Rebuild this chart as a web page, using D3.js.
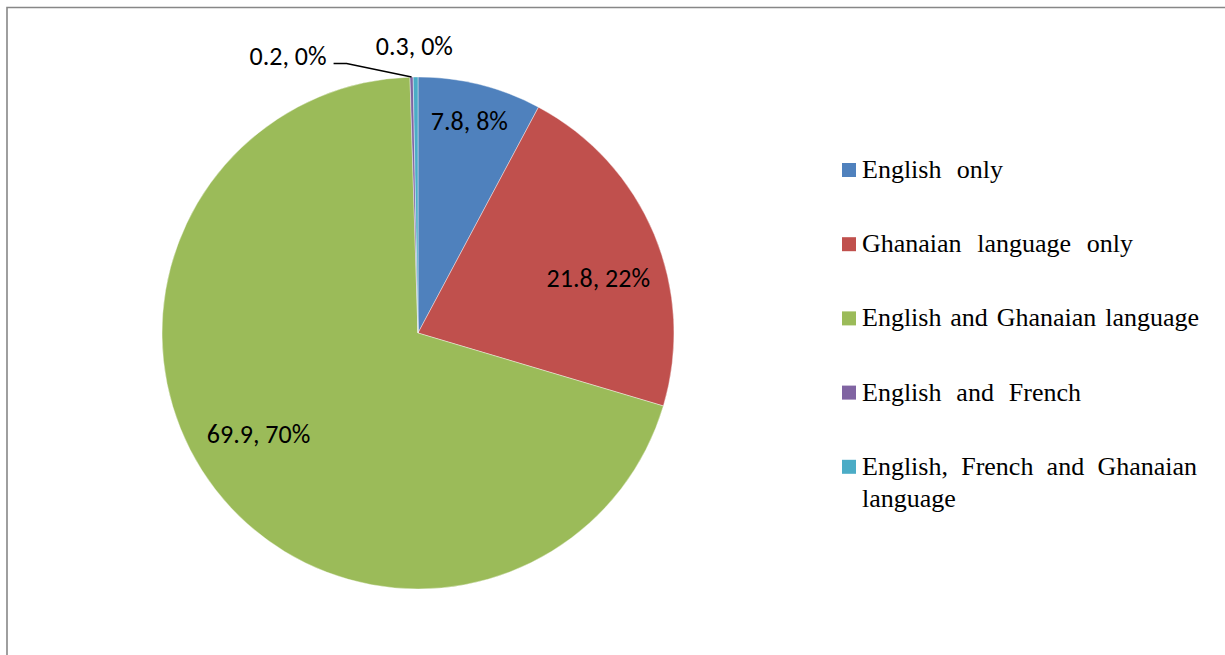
<!DOCTYPE html>
<html>
<head>
<meta charset="utf-8">
<script src="https://cdn.jsdelivr.net/npm/d3@7"></script>
<style>
  html, body { margin: 0; padding: 0; background: #fff; }
  svg { display: block; }
</style>
</head>
<body>
<svg id="chart" width="1225" height="655"></svg>
<script>
// Language(s) spoken — share of respondents
const categories = [
  "English only",
  "Ghanaian language only",
  "English and Ghanaian language",
  "English and French",
  "English, French and Ghanaian language"
];
const values = [7.8, 21.8, 69.9, 0.2, 0.3];
const colors = ["#4F81BD", "#C0504D", "#9BBB59", "#8064A2", "#4BACC6"];

const W = 1225, H = 655;
const cx = 418, cy = 333, R = 256;
const LABEL_FONT = '"Carlito", "Lato", sans-serif';
const LEGEND_FONT = '"Liberation Serif", "Tinos", serif';

const svg = d3.select("#chart");
svg.append("rect").attr("width", W).attr("height", H).attr("fill", "#fff");

// chart-area frame (left and top edges visible)
svg.append("path")
  .attr("d", `M7,${H} V7.5 H${W}`)
  .attr("fill", "none")
  .attr("stroke", "#878787")
  .attr("stroke-width", 1.6);

const total = d3.sum(values);
const pie = d3.pie().sort(null).value(d => d)(values);
const arc = d3.arc().innerRadius(0).outerRadius(R);

const g = svg.append("g").attr("transform", `translate(${cx},${cy})`);

g.selectAll("path.slice")
  .data(pie)
  .join("path")
  .attr("class", "slice")
  .attr("d", arc)
  .attr("fill", (d, i) => colors[i])
  .attr("stroke", "#fff")
  .attr("stroke-width", 0.4);

// data labels: "value, percent%"
const labelText = v => `${v}, ${Math.round(v / total * 100)}%`;
const midAngle = d => (d.startAngle + d.endAngle) / 2;

// label placement: radius along the slice bisector plus a nudge
const labelLayout = [
  { r: 216, dx: -1, dy: 7,  anchor: "middle" },
  { r: 190, dx: 5,  dy: 27, anchor: "middle" },
  { r: 190, dx: -9, dy: -6, anchor: "middle" },
  { r: 0,   dx: 0,  dy: 0,  anchor: "end", outside: true },
  { r: 278, dx: -1, dy: 0,  anchor: "middle" }
];

function addLabel(x, y, anchor, txt) {
  return g.append("text")
    .attr("x", x)
    .attr("y", y)
    .attr("text-anchor", anchor)
    .style("font-family", LABEL_FONT)
    .style("font-size", "26px")
    .attr("fill", "#000")
    .text(txt);
}

pie.forEach((d, i) => {
  const L = labelLayout[i];
  const a = midAngle(d);
  if (L.outside) {
    // leader line from the slice edge to a label on the upper left
    const ex = R * Math.sin(a), ey = -R * Math.cos(a);
    const lx = ex - 78, ly = ey - 13.5;
    g.append("path")
      .attr("d", `M${lx},${ly} H${lx + 13} L${ex},${ey}`)
      .attr("fill", "none")
      .attr("stroke", "#000")
      .attr("stroke-width", 1.5);
    addLabel(lx - 7, ly + 1.5, "end", labelText(values[i]));
  } else {
    addLabel(L.r * Math.sin(a) + L.dx, -L.r * Math.cos(a) + L.dy, L.anchor, labelText(values[i]));
  }
});

// legend (serif, justified lines)
const legX = 842, legY = 178, legStep = 74.2, lineGap = 31.7, textX = 862;
const lineWidths = [[141], [271], [337], [219], [335, null]];
const lineBreaks = [[], [], [], [], [4]];   // word index where a new line starts
const legend = svg.append("g");
let y = legY;
categories.forEach((c, i) => {
  legend.append("rect")
    .attr("x", legX).attr("y", y - 15)
    .attr("width", 14).attr("height", 14)
    .attr("fill", colors[i]);
  const words = c.split(" ");
  const cuts = [0, ...lineBreaks[i], words.length];
  const lines = d3.range(cuts.length - 1).map(k => words.slice(cuts[k], cuts[k + 1]).join(" "));
  lines.forEach((ln, k) => {
    const t = legend.append("text")
      .attr("x", textX)
      .attr("y", y + k * lineGap)
      .style("font-family", LEGEND_FONT)
      .style("font-size", "26px")
      .attr("fill", "#000")
      .text(ln);
    const target = lineWidths[i][k];
    const spaces = (ln.match(/ /g) || []).length;
    if (target && spaces) {
      const nat = t.node().getComputedTextLength();
      t.style("word-spacing", Math.max(0, (target - nat) / spaces).toFixed(2) + "px");
    }
  });
  y += legStep;
});
</script>
</body>
</html>
